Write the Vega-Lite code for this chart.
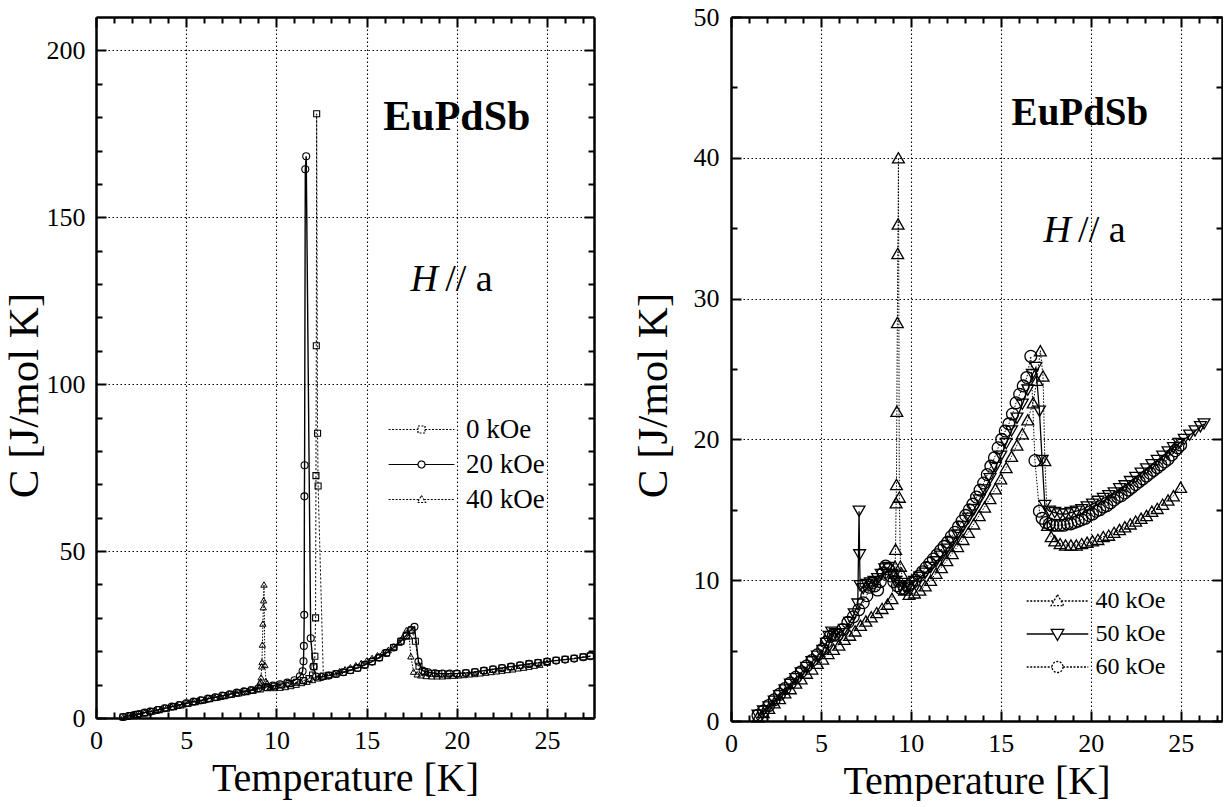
{
  "$schema": "https://vega.github.io/schema/vega-lite/v6.json",
  "background": "white",
  "padding": {"left": 3, "top": 4, "right": 0, "bottom": 0},
  "config": {
    "view": {"stroke": null},
    "axis": {"labelFont": "Liberation Serif", "labelFontSize": 26, "labelColor": "black", "titleFont": "Liberation Serif", "titleFontSize": 40, "titleFontWeight": "normal", "titleColor": "black", "domainColor": "black", "domainWidth": 2.5, "tickColor": "black", "tickWidth": 2, "gridColor": "black", "gridDash": [1.5, 2.5], "gridWidth": 1.1, "gridOpacity": 1, "labelFlush": false, "labelOverlap": false, "labelBound": false}
  },
  "datasets": {
    "d0": [{"T":1.5,"C":0.3},{"T":1.9,"C":0.7},{"T":2.3,"C":1.1},{"T":2.7,"C":1.5},{"T":3.1,"C":2.0},{"T":3.5,"C":2.5},{"T":3.9,"C":2.9},{"T":4.3,"C":3.4},{"T":4.7,"C":3.9},{"T":5.1,"C":4.4},{"T":5.5,"C":4.9},{"T":5.9,"C":5.3},{"T":6.3,"C":5.8},{"T":6.7,"C":6.2},{"T":7.1,"C":6.7},{"T":7.5,"C":7.1},{"T":7.9,"C":7.5},{"T":8.3,"C":7.9},{"T":8.7,"C":8.3},{"T":9.1,"C":8.7},{"T":9.5,"C":9.1},{"T":9.9,"C":9.5},{"T":10.3,"C":9.9},{"T":10.7,"C":10.3},{"T":11.1,"C":10.7},{"T":11.5,"C":11.2},{"T":11.8,"C":11.8},{"T":12.0,"C":12.9},{"T":12.08,"C":15.4},{"T":12.13,"C":18.5},{"T":12.17,"C":30.0},{"T":12.19,"C":72.6},{"T":12.21,"C":111.5},{"T":12.23,"C":181.0},{"T":12.28,"C":85.3},{"T":12.31,"C":69.5},{"T":12.6,"C":12.6},{"T":12.9,"C":12.8},{"T":13.3,"C":13.2},{"T":13.7,"C":13.7},{"T":14.1,"C":14.3},{"T":14.5,"C":15.0},{"T":14.9,"C":15.9},{"T":15.3,"C":16.9},{"T":15.7,"C":18.1},{"T":16.1,"C":19.5},{"T":16.5,"C":21.1},{"T":16.9,"C":23.0},{"T":17.2,"C":24.6},{"T":17.5,"C":26.3},{"T":17.7,"C":23.0},{"T":17.9,"C":15.5},{"T":18.2,"C":13.9},{"T":18.6,"C":13.4},{"T":19.0,"C":13.3},{"T":19.5,"C":13.2},{"T":20.0,"C":13.3},{"T":20.5,"C":13.5},{"T":21.0,"C":13.8},{"T":21.5,"C":14.2},{"T":22.0,"C":14.6},{"T":22.5,"C":15.0},{"T":23.0,"C":15.4},{"T":23.5,"C":15.8},{"T":24.0,"C":16.2},{"T":24.5,"C":16.6},{"T":25.0,"C":16.9},{"T":25.5,"C":17.3},{"T":26.0,"C":17.6},{"T":26.5,"C":17.9},{"T":27.0,"C":18.3},{"T":27.4,"C":18.6}],
    "d20": [{"T":1.5,"C":0.3},{"T":1.8,"C":0.6},{"T":2.1,"C":0.9},{"T":2.4,"C":1.2},{"T":2.7,"C":1.6},{"T":3.0,"C":1.9},{"T":3.4,"C":2.4},{"T":3.8,"C":2.9},{"T":4.2,"C":3.4},{"T":4.6,"C":3.9},{"T":5.0,"C":4.4},{"T":5.4,"C":4.9},{"T":5.8,"C":5.3},{"T":6.2,"C":5.8},{"T":6.6,"C":6.2},{"T":7.0,"C":6.7},{"T":7.4,"C":7.1},{"T":7.8,"C":7.6},{"T":8.2,"C":8.0},{"T":8.6,"C":8.4},{"T":9.0,"C":8.9},{"T":9.4,"C":9.3},{"T":9.8,"C":9.7},{"T":10.2,"C":10.1},{"T":10.6,"C":10.6},{"T":11.0,"C":11.3},{"T":11.3,"C":12.5},{"T":11.45,"C":14.0},{"T":11.5,"C":17.0},{"T":11.52,"C":21.6},{"T":11.54,"C":30.9},{"T":11.55,"C":66.4},{"T":11.56,"C":75.7},{"T":11.6,"C":164.4},{"T":11.65,"C":168.3},{"T":11.9,"C":23.9},{"T":12.05,"C":15.4},{"T":12.2,"C":12.4},{"T":12.5,"C":12.3},{"T":12.9,"C":12.7},{"T":13.3,"C":13.2},{"T":13.7,"C":13.7},{"T":14.1,"C":14.3},{"T":14.5,"C":15.0},{"T":14.9,"C":15.9},{"T":15.3,"C":16.9},{"T":15.7,"C":18.1},{"T":16.1,"C":19.5},{"T":16.5,"C":21.1},{"T":16.9,"C":23.0},{"T":17.2,"C":24.8},{"T":17.45,"C":26.4},{"T":17.65,"C":27.3},{"T":17.87,"C":16.9},{"T":18.1,"C":14.2},{"T":18.4,"C":13.7},{"T":18.8,"C":13.4},{"T":19.2,"C":13.3},{"T":19.6,"C":13.3},{"T":20.0,"C":13.3},{"T":20.5,"C":13.5},{"T":21.0,"C":13.8},{"T":21.5,"C":14.2},{"T":22.0,"C":14.6},{"T":22.5,"C":15.0},{"T":23.0,"C":15.4},{"T":23.5,"C":15.8},{"T":24.0,"C":16.2},{"T":24.5,"C":16.5},{"T":25.0,"C":16.9},{"T":25.5,"C":17.2},{"T":26.0,"C":17.5},{"T":26.5,"C":17.8},{"T":27.0,"C":18.2},{"T":27.4,"C":18.5}],
    "d40": [{"T":1.5,"C":0.3},{"T":1.8,"C":0.6},{"T":2.1,"C":0.9},{"T":2.4,"C":1.3},{"T":2.7,"C":1.6},{"T":3.0,"C":2.0},{"T":3.3,"C":2.3},{"T":3.6,"C":2.7},{"T":3.9,"C":3.0},{"T":4.2,"C":3.4},{"T":4.5,"C":3.7},{"T":4.8,"C":4.1},{"T":5.1,"C":4.4},{"T":5.4,"C":4.8},{"T":5.7,"C":5.1},{"T":6.0,"C":5.4},{"T":6.3,"C":5.8},{"T":6.6,"C":6.1},{"T":6.9,"C":6.4},{"T":7.2,"C":6.8},{"T":7.5,"C":7.1},{"T":7.8,"C":7.4},{"T":8.1,"C":7.7},{"T":8.4,"C":8.0},{"T":8.7,"C":8.3},{"T":8.95,"C":8.7},{"T":9.08,"C":10.5},{"T":9.12,"C":11.0},{"T":9.15,"C":12.2},{"T":9.18,"C":15.5},{"T":9.2,"C":16.8},{"T":9.22,"C":22.0},{"T":9.25,"C":28.3},{"T":9.27,"C":33.2},{"T":9.29,"C":35.3},{"T":9.31,"C":40.0},{"T":9.36,"C":15.9},{"T":9.42,"C":11.0},{"T":9.48,"C":10.5},{"T":9.65,"C":9.3},{"T":9.9,"C":9.0},{"T":10.2,"C":9.1},{"T":10.5,"C":9.3},{"T":10.8,"C":9.6},{"T":11.1,"C":10.0},{"T":11.4,"C":10.5},{"T":11.7,"C":10.9},{"T":12.0,"C":11.4},{"T":12.3,"C":11.9},{"T":12.6,"C":12.4},{"T":12.9,"C":12.9},{"T":13.2,"C":13.4},{"T":13.5,"C":14.0},{"T":13.8,"C":14.6},{"T":14.1,"C":15.2},{"T":14.4,"C":15.8},{"T":14.7,"C":16.5},{"T":15.0,"C":17.2},{"T":15.3,"C":18.0},{"T":15.6,"C":18.8},{"T":15.9,"C":19.6},{"T":16.2,"C":20.4},{"T":16.5,"C":21.4},{"T":16.8,"C":22.6},{"T":17.0,"C":24.2},{"T":17.2,"C":26.3},{"T":17.35,"C":24.5},{"T":17.45,"C":18.5},{"T":17.6,"C":13.9},{"T":17.8,"C":13.1},{"T":18.0,"C":12.8},{"T":18.3,"C":12.6},{"T":18.6,"C":12.5},{"T":18.9,"C":12.5},{"T":19.2,"C":12.5},{"T":19.5,"C":12.6},{"T":19.8,"C":12.7},{"T":20.1,"C":12.8},{"T":20.4,"C":12.9},{"T":20.7,"C":13.1},{"T":21.0,"C":13.2},{"T":21.3,"C":13.4},{"T":21.6,"C":13.6},{"T":21.9,"C":13.8},{"T":22.2,"C":14.0},{"T":22.5,"C":14.2},{"T":22.8,"C":14.4},{"T":23.1,"C":14.6},{"T":23.4,"C":14.9},{"T":23.7,"C":15.1},{"T":24.0,"C":15.4},{"T":24.3,"C":15.7},{"T":24.6,"C":16.0},{"T":25.0,"C":16.6}],
    "d50": [{"T":1.5,"C":0.4},{"T":1.8,"C":0.7},{"T":2.1,"C":1.0},{"T":2.4,"C":1.4},{"T":2.7,"C":1.8},{"T":3.0,"C":2.2},{"T":3.3,"C":2.6},{"T":3.6,"C":3.0},{"T":3.9,"C":3.4},{"T":4.2,"C":3.8},{"T":4.5,"C":4.2},{"T":4.8,"C":4.6},{"T":5.1,"C":5.0},{"T":5.3,"C":5.5},{"T":5.45,"C":6.0},{"T":5.6,"C":6.3},{"T":5.8,"C":6.2},{"T":6.0,"C":6.2},{"T":6.3,"C":6.5},{"T":6.6,"C":7.0},{"T":6.85,"C":7.6},{"T":7.05,"C":8.3},{"T":7.12,"C":14.9},{"T":7.15,"C":11.8},{"T":7.18,"C":9.6},{"T":7.35,"C":9.4},{"T":7.55,"C":9.7},{"T":7.75,"C":9.8},{"T":7.95,"C":9.9},{"T":8.15,"C":10.1},{"T":8.35,"C":10.4},{"T":8.55,"C":10.8},{"T":8.75,"C":10.9},{"T":8.95,"C":10.4},{"T":9.15,"C":9.9},{"T":9.4,"C":9.6},{"T":9.65,"C":9.5},{"T":9.9,"C":9.6},{"T":10.2,"C":9.9},{"T":10.5,"C":10.2},{"T":10.8,"C":10.5},{"T":11.1,"C":10.9},{"T":11.4,"C":11.3},{"T":11.7,"C":11.7},{"T":12.0,"C":12.2},{"T":12.3,"C":12.7},{"T":12.6,"C":13.2},{"T":12.9,"C":13.8},{"T":13.2,"C":14.4},{"T":13.5,"C":15.0},{"T":13.8,"C":15.7},{"T":14.1,"C":16.4},{"T":14.4,"C":17.2},{"T":14.7,"C":18.0},{"T":15.0,"C":18.8},{"T":15.3,"C":19.7},{"T":15.6,"C":20.6},{"T":15.9,"C":21.5},{"T":16.2,"C":22.5},{"T":16.5,"C":23.5},{"T":16.75,"C":24.6},{"T":16.95,"C":25.1},{"T":17.15,"C":22.0},{"T":17.3,"C":18.5},{"T":17.45,"C":15.3},{"T":17.7,"C":14.9},{"T":18.0,"C":14.8},{"T":18.3,"C":14.7},{"T":18.6,"C":14.7},{"T":18.9,"C":14.8},{"T":19.2,"C":14.9},{"T":19.5,"C":15.0},{"T":19.8,"C":15.2},{"T":20.1,"C":15.4},{"T":20.4,"C":15.6},{"T":20.7,"C":15.8},{"T":21.0,"C":16.0},{"T":21.3,"C":16.2},{"T":21.6,"C":16.5},{"T":21.9,"C":16.7},{"T":22.2,"C":17.0},{"T":22.5,"C":17.3},{"T":22.8,"C":17.6},{"T":23.1,"C":17.9},{"T":23.4,"C":18.2},{"T":23.7,"C":18.5},{"T":24.0,"C":18.8},{"T":24.3,"C":19.1},{"T":24.6,"C":19.4},{"T":24.9,"C":19.7},{"T":25.2,"C":20.0},{"T":25.5,"C":20.3},{"T":25.8,"C":20.6},{"T":26.1,"C":20.9},{"T":26.3,"C":21.1}],
    "d60": [{"T":1.5,"C":0.4},{"T":1.8,"C":0.7},{"T":2.1,"C":1.1},{"T":2.4,"C":1.5},{"T":2.7,"C":1.9},{"T":3.0,"C":2.3},{"T":3.3,"C":2.7},{"T":3.6,"C":3.1},{"T":3.9,"C":3.5},{"T":4.2,"C":3.9},{"T":4.5,"C":4.3},{"T":4.8,"C":4.7},{"T":5.1,"C":5.1},{"T":5.3,"C":5.6},{"T":5.5,"C":6.0},{"T":5.7,"C":6.1},{"T":5.9,"C":6.1},{"T":6.2,"C":6.5},{"T":6.5,"C":7.0},{"T":6.8,"C":7.4},{"T":7.1,"C":7.9},{"T":7.35,"C":8.4},{"T":7.55,"C":8.9},{"T":7.7,"C":9.5},{"T":7.85,"C":9.8},{"T":8.0,"C":9.6},{"T":8.15,"C":9.3},{"T":8.3,"C":9.9},{"T":8.45,"C":10.5},{"T":8.6,"C":11.0},{"T":8.75,"C":10.8},{"T":8.9,"C":10.3},{"T":9.05,"C":9.9},{"T":9.25,"C":9.6},{"T":9.45,"C":9.4},{"T":9.65,"C":9.4},{"T":9.85,"C":9.6},{"T":10.05,"C":9.8},{"T":10.25,"C":10.0},{"T":10.45,"C":10.3},{"T":10.65,"C":10.6},{"T":10.85,"C":10.9},{"T":11.05,"C":11.2},{"T":11.25,"C":11.5},{"T":11.45,"C":11.8},{"T":11.65,"C":12.1},{"T":11.85,"C":12.4},{"T":12.05,"C":12.7},{"T":12.25,"C":13.1},{"T":12.45,"C":13.4},{"T":12.65,"C":13.8},{"T":12.85,"C":14.2},{"T":13.05,"C":14.6},{"T":13.25,"C":15.0},{"T":13.45,"C":15.4},{"T":13.65,"C":15.9},{"T":13.85,"C":16.4},{"T":14.05,"C":16.9},{"T":14.25,"C":17.5},{"T":14.45,"C":18.1},{"T":14.65,"C":18.7},{"T":14.85,"C":19.4},{"T":15.05,"C":20.0},{"T":15.25,"C":20.6},{"T":15.45,"C":21.1},{"T":15.65,"C":21.8},{"T":15.85,"C":22.6},{"T":16.05,"C":23.2},{"T":16.25,"C":23.8},{"T":16.45,"C":24.4},{"T":16.67,"C":25.9},{"T":16.9,"C":18.5},{"T":17.15,"C":14.9},{"T":17.3,"C":14.4},{"T":17.5,"C":14.1},{"T":17.7,"C":14.0},{"T":17.9,"C":13.9},{"T":18.1,"C":13.9},{"T":18.3,"C":13.9},{"T":18.5,"C":13.9},{"T":18.7,"C":14.0},{"T":18.9,"C":14.0},{"T":19.1,"C":14.1},{"T":19.3,"C":14.2},{"T":19.5,"C":14.3},{"T":19.7,"C":14.4},{"T":19.9,"C":14.6},{"T":20.1,"C":14.7},{"T":20.3,"C":14.9},{"T":20.5,"C":15.0},{"T":20.7,"C":15.2},{"T":20.9,"C":15.3},{"T":21.1,"C":15.5},{"T":21.3,"C":15.7},{"T":21.5,"C":15.9},{"T":21.7,"C":16.0},{"T":21.9,"C":16.2},{"T":22.1,"C":16.4},{"T":22.3,"C":16.6},{"T":22.5,"C":16.8},{"T":22.7,"C":17.0},{"T":22.9,"C":17.2},{"T":23.1,"C":17.4},{"T":23.3,"C":17.6},{"T":23.5,"C":17.8},{"T":23.7,"C":18.0},{"T":23.9,"C":18.2},{"T":24.1,"C":18.4},{"T":24.3,"C":18.6},{"T":24.5,"C":18.9},{"T":24.7,"C":19.2},{"T":24.85,"C":19.4},{"T":25.0,"C":19.6}]
  },
  "spacing": 137,
  "bounds": "flush",
  "resolve": {"scale": {"shape": "independent", "strokeDash": "independent"}, "legend": {"shape": "independent", "strokeDash": "independent"}},
  "hconcat": [
    {
      "width": 498,
      "height": 701,
      "layer": [
        {
          "data": {"name": "d0"},
          "mark": {"type": "line", "color": "black", "strokeWidth": 1, "strokeDash": [2, 2]},
          "encoding": {
            "x": {"field": "T", "type": "quantitative", "scale": {"domain": [0, 27.6], "nice": false, "zero": false}, "axis": {"orient": "bottom", "values": [0, 5, 10, 15, 20, 25], "tickSize": -10, "grid": true, "labelFont": "Liberation Serif", "labelPadding": 19, "title": "Temperature [K]", "titleFont": "Liberation Serif", "titlePadding": 5}},
            "y": {"field": "C", "type": "quantitative", "scale": {"domain": [0, 210], "nice": false, "zero": false}, "axis": {"orient": "left", "values": [0, 50, 100, 150, 200], "tickSize": -10, "grid": true, "labelFont": "Liberation Serif", "labelPadding": 21, "title": "C [J/mol K]", "titleFont": "Liberation Serif", "titleFontSize": 43, "titlePadding": 0, "titleY": 378}}
          }
        },
        {
          "data": {"name": "d0"},
          "mark": {"type": "point", "shape": "square", "size": 36, "filled": false, "color": "black", "strokeWidth": 1.1, "opacity": 1},
          "encoding": {
            "x": {"field": "T", "type": "quantitative", "scale": {"domain": [0, 27.6], "nice": false, "zero": false}, "axis": {"orient": "bottom", "values": [1, 2, 3, 4, 6, 7, 8, 9, 11, 12, 13, 14, 16, 17, 18, 19, 21, 22, 23, 24, 26, 27], "tickSize": -6, "labels": false, "domain": false, "grid": false, "title": null}},
            "y": {"field": "C", "type": "quantitative", "scale": {"domain": [0, 210], "nice": false, "zero": false}, "axis": {"orient": "left", "values": [10, 20, 30, 40, 60, 70, 80, 90, 110, 120, 130, 140, 160, 170, 180, 190], "tickSize": -6, "labels": false, "domain": false, "grid": false, "title": null}}
          }
        },
        {
          "data": {"name": "d20"},
          "mark": {"type": "line", "color": "black", "strokeWidth": 1.4},
          "encoding": {
            "x": {"field": "T", "type": "quantitative", "scale": {"domain": [0, 27.6], "nice": false, "zero": false}, "axis": {"orient": "top", "values": [0, 5, 10, 15, 20, 25], "tickSize": -10, "labels": false, "grid": false, "title": null}},
            "y": {"field": "C", "type": "quantitative", "scale": {"domain": [0, 210], "nice": false, "zero": false}, "axis": {"orient": "right", "values": [0, 50, 100, 150, 200], "tickSize": -10, "labels": false, "grid": false, "title": null}}
          }
        },
        {
          "data": {"name": "d20"},
          "mark": {"type": "point", "shape": "circle", "size": 49, "filled": false, "color": "black", "strokeWidth": 1.1, "opacity": 1},
          "encoding": {
            "x": {"field": "T", "type": "quantitative", "scale": {"domain": [0, 27.6], "nice": false, "zero": false}, "axis": {"orient": "top", "values": [1, 2, 3, 4, 6, 7, 8, 9, 11, 12, 13, 14, 16, 17, 18, 19, 21, 22, 23, 24, 26, 27], "tickSize": -6, "labels": false, "domain": false, "grid": false, "title": null}},
            "y": {"field": "C", "type": "quantitative", "scale": {"domain": [0, 210], "nice": false, "zero": false}, "axis": {"orient": "right", "values": [10, 20, 30, 40, 60, 70, 80, 90, 110, 120, 130, 140, 160, 170, 180, 190], "tickSize": -6, "labels": false, "domain": false, "grid": false, "title": null}}
          }
        },
        {
          "data": {"name": "d40"},
          "mark": {"type": "line", "color": "black", "strokeWidth": 1, "strokeDash": [1.5, 1.5]},
          "encoding": {
            "x": {"field": "T", "type": "quantitative", "scale": {"domain": [0, 27.6], "nice": false, "zero": false}, "axis": null},
            "y": {"field": "C", "type": "quantitative", "scale": {"domain": [0, 210], "nice": false, "zero": false}, "axis": null}
          }
        },
        {
          "data": {"name": "d40"},
          "mark": {"type": "point", "shape": "triangle-up", "size": 40, "filled": false, "color": "black", "strokeWidth": 1, "opacity": 1},
          "encoding": {
            "x": {"field": "T", "type": "quantitative", "scale": {"domain": [0, 27.6], "nice": false, "zero": false}, "axis": null},
            "y": {"field": "C", "type": "quantitative", "scale": {"domain": [0, 210], "nice": false, "zero": false}, "axis": null}
          }
        },
        {
          "data": {"values": [{"t": "EuPdSb"}]},
          "mark": {"type": "text", "font": "Liberation Serif", "fontWeight": "bold", "fontSize": 42, "align": "center", "baseline": "alphabetic", "color": "black"},
          "encoding": {"x": {"datum": 20.0, "type": "quantitative", "axis": null}, "y": {"datum": 176, "type": "quantitative", "axis": null}, "text": {"field": "t", "type": "nominal"}}
        },
        {
          "data": {"values": [{"t": "H"}]},
          "mark": {"type": "text", "font": "Liberation Serif", "fontStyle": "italic", "fontSize": 38, "align": "right", "baseline": "alphabetic", "color": "black"},
          "encoding": {"x": {"datum": 18.95, "type": "quantitative", "axis": null}, "y": {"datum": 128, "type": "quantitative", "axis": null}, "text": {"field": "t", "type": "nominal"}}
        },
        {
          "data": {"values": [{"t": "// a"}]},
          "mark": {"type": "text", "font": "Liberation Serif", "fontSize": 38, "align": "left", "baseline": "alphabetic", "color": "black"},
          "encoding": {"x": {"datum": 19.35, "type": "quantitative", "axis": null}, "y": {"datum": 128, "type": "quantitative", "axis": null}, "text": {"field": "t", "type": "nominal"}}
        },
        {
          "data": {"values": [{"s": "0 kOe"}, {"s": "20 kOe"}, {"s": "40 kOe"}]},
          "mark": {"type": "point", "filled": false, "color": "black", "opacity": 0, "strokeWidth": 1.2},
          "encoding": {
            "shape": {"field": "s", "type": "nominal", "scale": {"domain": ["0 kOe", "20 kOe", "40 kOe"], "range": ["M-9.4,0H-1M1,0H9.4M-1,-1H1V1H-1Z", "M-9.4,0H-1M1,0H9.4M1,0C1,0.552,0.552,1,0,1C-0.552,1,-1,0.552,-1,0C-1,-0.552,-0.552,-1,0,-1C0.552,-1,1,-0.552,1,0Z", "M-9.4,0H-0.66M0.66,0H9.4M0,-1.15L1.15,0.85L-1.15,0.85Z"]}, "legend": {"title": null, "orient": "none", "legendX": 312, "legendY": 399, "symbolSize": 49, "symbolStrokeWidth": 1.2, "symbolStrokeColor": "black", "symbolOpacity": 1, "labelFont": "Liberation Serif", "labelFontSize": 27, "labelColor": "black", "labelOffset": 31, "rowPadding": 7, "padding": 0, "labelLimit": 300}},
            "strokeDash": {"field": "s", "type": "nominal", "scale": {"domain": ["0 kOe", "20 kOe", "40 kOe"], "range": [[2, 1.5], [1, 0], [2, 1.5]]}, "legend": {"title": null, "orient": "none", "legendX": 312, "legendY": 399, "symbolSize": 49, "symbolStrokeWidth": 1.2, "symbolStrokeColor": "black", "symbolOpacity": 1, "labelFont": "Liberation Serif", "labelFontSize": 27, "labelColor": "black", "labelOffset": 31, "rowPadding": 7, "padding": 0, "labelLimit": 300}}
          }
        }
      ],
      "resolve": {"axis": {"x": "independent", "y": "independent"}}
    },
    {
      "width": 491,
      "height": 704,
      "layer": [
        {
          "data": {"name": "d40"},
          "mark": {"type": "line", "color": "black", "strokeWidth": 1, "strokeDash": [1.5, 1.5]},
          "encoding": {
            "x": {"field": "T", "type": "quantitative", "scale": {"domain": [0, 27.3], "nice": false, "zero": false}, "axis": {"orient": "bottom", "values": [0, 5, 10, 15, 20, 25], "tickSize": -10, "grid": true, "labelFont": "Liberation Serif", "labelPadding": 19, "title": "Temperature [K]", "titleFont": "Liberation Serif", "titlePadding": 5}},
            "y": {"field": "C", "type": "quantitative", "scale": {"domain": [0, 50], "nice": false, "zero": false}, "axis": {"orient": "left", "values": [0, 10, 20, 30, 40, 50], "tickSize": -10, "grid": true, "labelFont": "Liberation Serif", "labelPadding": 22, "title": "C [J/mol K]", "titleFont": "Liberation Serif", "titleFontSize": 43, "titlePadding": 18, "titleY": 378}}
          }
        },
        {
          "data": {"name": "d40"},
          "mark": {"type": "point", "shape": "triangle-up", "size": 140, "filled": false, "color": "black", "strokeWidth": 1.3, "opacity": 1},
          "encoding": {
            "x": {"field": "T", "type": "quantitative", "scale": {"domain": [0, 27.3], "nice": false, "zero": false}, "axis": {"orient": "bottom", "values": [1, 2, 3, 4, 6, 7, 8, 9, 11, 12, 13, 14, 16, 17, 18, 19, 21, 22, 23, 24, 26, 27], "tickSize": -6, "labels": false, "domain": false, "grid": false, "title": null}},
            "y": {"field": "C", "type": "quantitative", "scale": {"domain": [0, 50], "nice": false, "zero": false}, "axis": {"orient": "left", "values": [5, 15, 25, 35, 45], "tickSize": -6, "labels": false, "domain": false, "grid": false, "title": null}}
          }
        },
        {
          "data": {"name": "d50"},
          "mark": {"type": "line", "color": "black", "strokeWidth": 1.3},
          "encoding": {
            "x": {"field": "T", "type": "quantitative", "scale": {"domain": [0, 27.3], "nice": false, "zero": false}, "axis": {"orient": "top", "values": [0, 5, 10, 15, 20, 25], "tickSize": -10, "labels": false, "grid": false, "title": null}},
            "y": {"field": "C", "type": "quantitative", "scale": {"domain": [0, 50], "nice": false, "zero": false}, "axis": {"orient": "right", "values": [0, 10, 20, 30, 40, 50], "tickSize": -10, "labels": false, "grid": false, "title": null}}
          }
        },
        {
          "data": {"name": "d50"},
          "mark": {"type": "point", "shape": "triangle-down", "size": 140, "filled": false, "color": "black", "strokeWidth": 1.3, "opacity": 1},
          "encoding": {
            "x": {"field": "T", "type": "quantitative", "scale": {"domain": [0, 27.3], "nice": false, "zero": false}, "axis": {"orient": "top", "values": [1, 2, 3, 4, 6, 7, 8, 9, 11, 12, 13, 14, 16, 17, 18, 19, 21, 22, 23, 24, 26, 27], "tickSize": -6, "labels": false, "domain": false, "grid": false, "title": null}},
            "y": {"field": "C", "type": "quantitative", "scale": {"domain": [0, 50], "nice": false, "zero": false}, "axis": {"orient": "right", "values": [5, 15, 25, 35, 45], "tickSize": -6, "labels": false, "domain": false, "grid": false, "title": null}}
          }
        },
        {
          "data": {"name": "d60"},
          "mark": {"type": "line", "color": "black", "strokeWidth": 1, "strokeDash": [1.5, 1.5]},
          "encoding": {
            "x": {"field": "T", "type": "quantitative", "scale": {"domain": [0, 27.3], "nice": false, "zero": false}, "axis": null},
            "y": {"field": "C", "type": "quantitative", "scale": {"domain": [0, 50], "nice": false, "zero": false}, "axis": null}
          }
        },
        {
          "data": {"name": "d60"},
          "mark": {"type": "point", "shape": "circle", "size": 140, "filled": false, "color": "black", "strokeWidth": 1.3, "opacity": 1},
          "encoding": {
            "x": {"field": "T", "type": "quantitative", "scale": {"domain": [0, 27.3], "nice": false, "zero": false}, "axis": null},
            "y": {"field": "C", "type": "quantitative", "scale": {"domain": [0, 50], "nice": false, "zero": false}, "axis": null}
          }
        },
        {
          "data": {"values": [{"t": "EuPdSb"}]},
          "mark": {"type": "text", "font": "Liberation Serif", "fontWeight": "bold", "fontSize": 39, "align": "center", "baseline": "alphabetic", "color": "black"},
          "encoding": {"x": {"datum": 19.4, "type": "quantitative", "axis": null}, "y": {"datum": 42.3, "type": "quantitative", "axis": null}, "text": {"field": "t", "type": "nominal"}}
        },
        {
          "data": {"values": [{"t": "H"}]},
          "mark": {"type": "text", "font": "Liberation Serif", "fontStyle": "italic", "fontSize": 38, "align": "right", "baseline": "alphabetic", "color": "black"},
          "encoding": {"x": {"datum": 18.9, "type": "quantitative", "axis": null}, "y": {"datum": 34.0, "type": "quantitative", "axis": null}, "text": {"field": "t", "type": "nominal"}}
        },
        {
          "data": {"values": [{"t": "// a"}]},
          "mark": {"type": "text", "font": "Liberation Serif", "fontSize": 38, "align": "left", "baseline": "alphabetic", "color": "black"},
          "encoding": {"x": {"datum": 19.3, "type": "quantitative", "axis": null}, "y": {"datum": 34.0, "type": "quantitative", "axis": null}, "text": {"field": "t", "type": "nominal"}}
        },
        {
          "data": {"values": [{"s": "40 kOe"}, {"s": "50 kOe"}, {"s": "60 kOe"}]},
          "mark": {"type": "point", "filled": false, "color": "black", "opacity": 0, "strokeWidth": 1.3},
          "encoding": {
            "shape": {"field": "s", "type": "nominal", "scale": {"domain": ["40 kOe", "50 kOe", "60 kOe"], "range": ["M-5.6,0H-0.66M0.66,0H5.6M0,-1.15L1.15,0.85L-1.15,0.85Z", "M-5.6,0H-0.66M0.66,0H5.6M0,1.15L1.15,-0.85L-1.15,-0.85Z", "M-5.6,0H-1M1,0H5.6M1,0C1,0.552,0.552,1,0,1C-0.552,1,-1,0.552,-1,0C-1,-0.552,-0.552,-1,0,-1C0.552,-1,1,-0.552,1,0Z"]}, "legend": {"title": null, "orient": "none", "legendX": 314.5, "legendY": 572, "symbolSize": 121, "symbolStrokeWidth": 1.3, "symbolStrokeColor": "black", "symbolOpacity": 1, "labelFont": "Liberation Serif", "labelFontSize": 24, "labelColor": "black", "labelOffset": 26, "rowPadding": 9, "padding": 0, "labelLimit": 300}},
            "strokeDash": {"field": "s", "type": "nominal", "scale": {"domain": ["40 kOe", "50 kOe", "60 kOe"], "range": [[2, 1.5], [1, 0], [2, 1.5]]}, "legend": {"title": null, "orient": "none", "legendX": 314.5, "legendY": 572, "symbolSize": 121, "symbolStrokeWidth": 1.3, "symbolStrokeColor": "black", "symbolOpacity": 1, "labelFont": "Liberation Serif", "labelFontSize": 24, "labelColor": "black", "labelOffset": 26, "rowPadding": 9, "padding": 0, "labelLimit": 300}}
          }
        }
      ],
      "resolve": {"axis": {"x": "independent", "y": "independent"}}
    }
  ]
}
